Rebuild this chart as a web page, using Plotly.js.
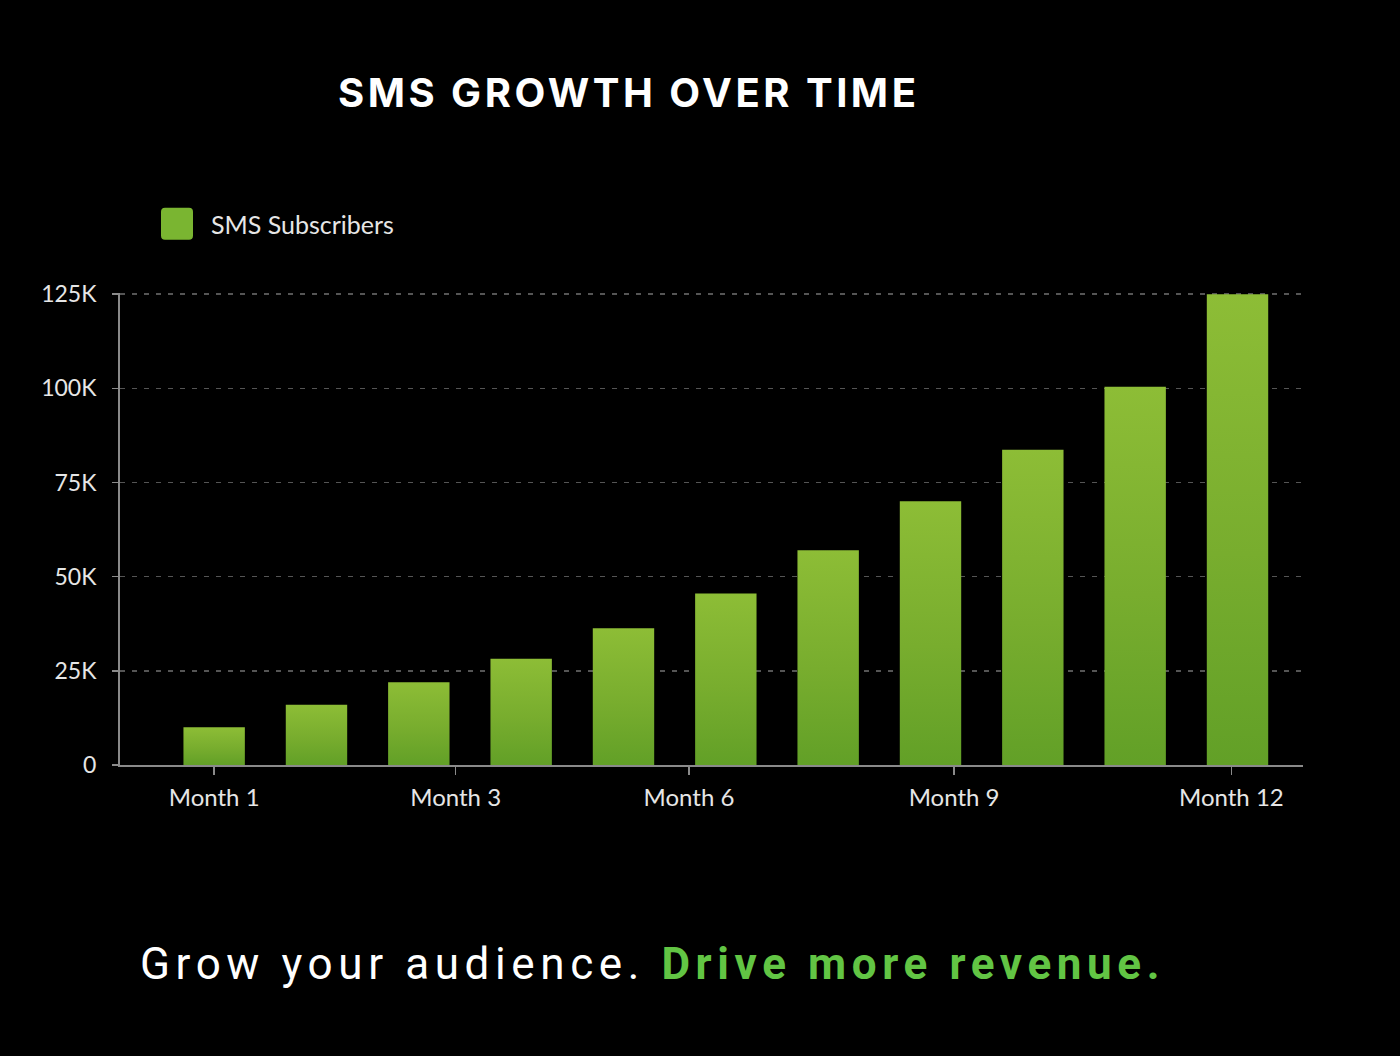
<!DOCTYPE html>
<html>
<head>
<meta charset="utf-8">
<script src="https://cdn.plot.ly/plotly-3.0.1.min.js"></script>
<style>
  html, body { margin: 0; padding: 0; background: #000; }
  #chart { width: 1400px; height: 1056px; }
  .gtitle { letter-spacing: 3.5px; }
  .annotation-text { letter-spacing: 5.6px; }
</style>
</head>
<body>
<div id="chart"></div>
<script>
// ---- data ----
const barIndex = [1, 2, 3, 4, 5, 6, 7, 8, 9, 10, 11];
const subscribers = [10000, 16000, 22000, 28200, 36300, 45500, 57000, 70000, 83700, 100400, 125000];
const seriesName = 'SMS Subscribers';
const xTickLabels = ['Month 1', 'Month 3', 'Month 6', 'Month 9', 'Month 12'];
const xTickPositions = [1, 3.36, 5.64, 8.23, 10.94];
const yTickValues = [0, 25000, 50000, 75000, 100000, 125000];
const yTickLabels = ['0', '25K', '50K', '75K', '100K', '125K'];
const chartTitle = 'SMS GROWTH OVER TIME';
const taglineWhite = 'Grow your audience.';
const taglineGreen = 'Drive more revenue.';

const labelFont = 'Lato, "Open Sans", sans-serif';

const trace = {
  type: 'bar',
  x: barIndex,
  y: subscribers,
  name: seriesName,
  width: 0.6,
  marker: { color: '#78b030', line: { width: 0 } },
  showlegend: true,
  hoverinfo: 'y'
};

const layout = {
  width: 1400,
  height: 1056,
  paper_bgcolor: '#000000',
  plot_bgcolor: '#000000',
  margin: { l: 120, r: 97, t: 293, b: 291 },
  title: {
    text: chartTitle,
    font: { family: 'Inter, Roboto, sans-serif', size: 40, color: '#ffffff', weight: 700 },
    xref: 'container', yref: 'container',
    x: 338 / 1400, xanchor: 'left',
    y: 1 - 93 / 1056, yanchor: 'middle'
  },
  showlegend: true,
  legend: {
    orientation: 'h',
    x: (143 - 120) / 1183, xref: 'paper',
    xanchor: 'left',
    y: 1 + (293 - 201) / 472, yanchor: 'top',
    font: { family: labelFont, size: 25, color: '#e6e6e6' },
    bgcolor: 'rgba(0,0,0,0)',
    itemwidth: 58
  },
  xaxis: {
    range: [0.08, 11.64],
    tickmode: 'array',
    tickvals: xTickPositions,
    ticktext: xTickLabels,
    ticks: 'outside',
    ticklen: 8,
    tickwidth: 1.5,
    tickcolor: '#8a8a8a',
    showline: true,
    linecolor: '#8a8a8a',
    linewidth: 2,
    showgrid: false,
    zeroline: false,
    ticklabelstandoff: 2,
    tickfont: { family: labelFont, size: 24, color: '#e6e6e6' }
  },
  yaxis: {
    range: [0, 125300],
    tickmode: 'array',
    tickvals: yTickValues,
    ticktext: yTickLabels,
    ticks: 'outside',
    ticklen: 6,
    tickwidth: 1.5,
    tickcolor: '#8a8a8a',
    showline: true,
    linecolor: '#8a8a8a',
    linewidth: 2,
    showgrid: true,
    gridcolor: '#555555',
    griddash: '5px,7px',
    gridwidth: 1.5,
    zeroline: false,
    ticklabelstandoff: 11,
    tickfont: { family: labelFont, size: 23, color: '#e6e6e6' }
  },
  annotations: [{
    xref: 'paper', yref: 'paper',
    x: (138 - 120) / 1183, xanchor: 'left',
    y: (765 - 964) / 472, yanchor: 'middle',
    showarrow: false,
    text: taglineWhite + ' <span style="color:#62c544;font-weight:bold">' + taglineGreen + '</span>',
    font: { family: 'Roboto, "Liberation Sans", sans-serif', size: 44, color: '#ffffff' }
  }]
};

function decorate() {
  const svg = document.querySelector('#chart .main-svg');
  if (!svg) return;
  let defs = svg.querySelector('defs');
  if (!defs) { defs = document.createElementNS('http://www.w3.org/2000/svg', 'defs'); svg.insertBefore(defs, svg.firstChild); }
  if (!document.getElementById('barGrad')) {
    const g = document.createElementNS('http://www.w3.org/2000/svg', 'linearGradient');
    g.setAttribute('id', 'barGrad');
    g.setAttribute('x1', '0'); g.setAttribute('y1', '0');
    g.setAttribute('x2', '0'); g.setAttribute('y2', '1');
    [['0', '#8dbd36'], ['0.55', '#78ad2e'], ['1', '#62a027']].forEach(function (s) {
      const st = document.createElementNS('http://www.w3.org/2000/svg', 'stop');
      st.setAttribute('offset', s[0]); st.setAttribute('stop-color', s[1]);
      g.appendChild(st);
    });
    defs.appendChild(g);
  }
  document.querySelectorAll('#chart .bars .point path').forEach(function (p) {
    p.style.fill = 'url(#barGrad)';
  });
  document.querySelectorAll('#chart .legendpoints path').forEach(function (p) {
    p.setAttribute('d', 'M-12,-16H12A4,4 0 0 1 16,-12V12A4,4 0 0 1 12,16H-12A4,4 0 0 1 -16,12V-12A4,4 0 0 1 -12,-16Z');
    p.style.fill = '#7ab531';
    p.style.stroke = 'none';
  });
}

Plotly.newPlot('chart', [trace], layout, { displayModeBar: false, staticPlot: true }).then(function (gd) {
  decorate();
  gd.on('plotly_afterplot', decorate);
});
</script>
</body>
</html>
